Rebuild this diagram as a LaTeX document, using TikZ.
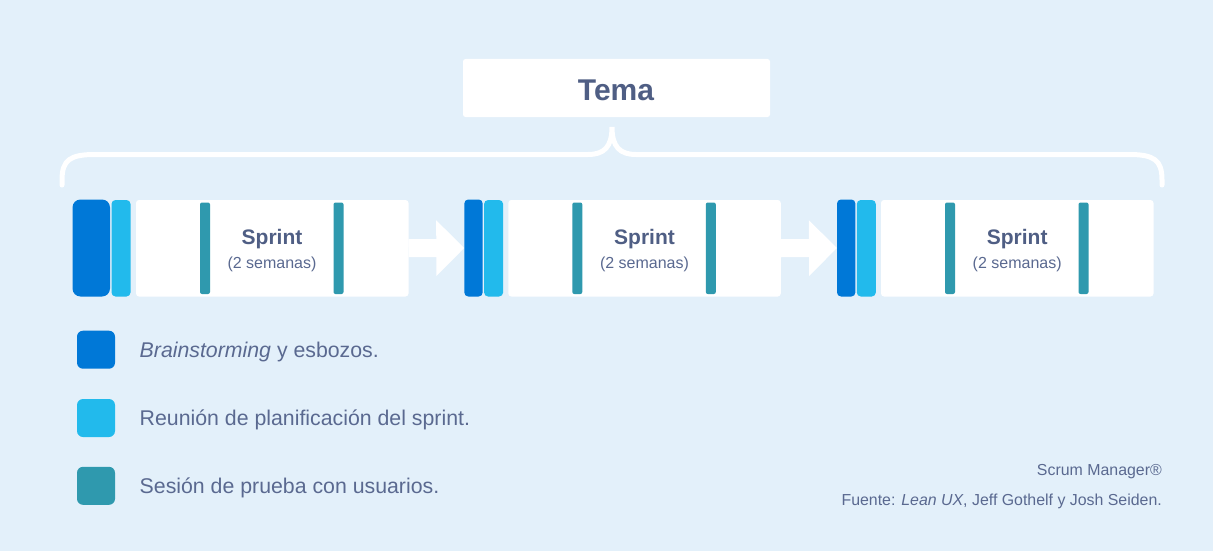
\documentclass[tikz,border=0pt]{standalone}
\usepackage{fontspec}
\setmainfont{Liberation Sans}
\usetikzlibrary{arrows.meta}
\definecolor{bgc}{HTML}{E3F0FA}
\definecolor{dblue}{HTML}{0078D7}
\definecolor{lblue}{HTML}{22BAEC}
\definecolor{tealc}{HTML}{2F99AE}
\definecolor{txta}{HTML}{4F5E84}
\definecolor{txtb}{HTML}{5A6990}
\tikzset{
  blk/.style={inner sep=0pt, outer sep=0pt, anchor=north west, draw=none},
  darkbar/.style={blk, fill=dblue},
  lightbar/.style={blk, fill=lblue, rounded corners=4pt, minimum width=19pt, minimum height=96.5pt},
  whitebox/.style={blk, fill=white, rounded corners=3pt, minimum width=272.5pt, minimum height=96.5pt},
  testbar/.style={blk, fill=tealc, rounded corners=2pt, minimum width=10pt, minimum height=91.5pt},
  sprinttxt/.style={inner sep=0pt, anchor=base, text=txta, font=\fontsize{21}{25}\selectfont\bfseries},
  semtxt/.style={inner sep=0pt, anchor=base, text=txtb, font=\fontsize{16}{19}\selectfont},
  legsq/.style={inner sep=0pt, outer sep=0pt, minimum size=38pt, rounded corners=6pt},
  legtxt/.style={inner sep=0pt, anchor=base west, text=txtb, font=\fontsize{21.3}{25}\selectfont},
  srctxt/.style={inner sep=0pt, anchor=base east, text=txtb, font=\fontsize{15.9}{19}\selectfont},
  blockarrow/.style={white, line width=18pt, -{Triangle[length=28pt,width=54pt]}}
}
\begin{document}
\begin{tikzpicture}[x=1pt,y=-1pt]
\fill[bgc] (0,0) rectangle (1213,551);
\useasboundingbox (0,0) rectangle (1213,551);
% Tema
\node[blk, fill=white, rounded corners=2.5pt, minimum width=307pt, minimum height=58pt] (temabox) at (463,59) {};
\node[inner sep=0pt, anchor=base, text=txta, font=\fontsize{30}{36}\selectfont\bfseries] (tema) at (616,100.5) {Tema};
% brace
\draw[white, line width=5pt, line cap=round]
  (62,185) -- (62,180) .. controls (62,160) and (70,154.5) .. (95,154.5)
  -- (588,154.5) .. controls (604,154.5) and (612,147) .. (612,127)
  .. controls (612,147) and (620,154.5) .. (636,154.5)
  -- (1129,154.5) .. controls (1154,154.5) and (1162,160) .. (1162,180) -- (1162,185);
% group 1
\node[darkbar, rounded corners=8pt, minimum width=37.5pt, minimum height=97pt] (d1) at (72.5,199.5) {};
\node[lightbar] (l1) at (111.5,200) {};
\node[whitebox] (w1) at (136,200) {};
\node[testbar] (t1a) at (200,202.5) {};
\node[testbar] (t1b) at (333.5,202.5) {};
\node[sprinttxt] (s1) at (272,244.5) {Sprint};
\node[semtxt] (m1) at (272,268) {(2 semanas)};
% group 2
\node[darkbar, rounded corners=4pt, minimum width=18.4pt, minimum height=97pt] (d2) at (464.3,199.5) {};
\node[lightbar] (l2) at (484.1,200) {};
\node[whitebox] (w2) at (508.3,200) {};
\node[testbar] (t2a) at (572.3,202.5) {};
\node[testbar] (t2b) at (705.8,202.5) {};
\node[sprinttxt] (s2) at (644.5,244.5) {Sprint};
\node[semtxt] (m2) at (644.5,268) {(2 semanas)};
% group 3
\node[darkbar, rounded corners=4pt, minimum width=18.4pt, minimum height=97pt] (d3) at (837,199.5) {};
\node[lightbar] (l3) at (856.8,200) {};
\node[whitebox] (w3) at (881,200) {};
\node[testbar] (t3a) at (945,202.5) {};
\node[testbar] (t3b) at (1078.5,202.5) {};
\node[sprinttxt] (s3) at (1017.2,244.5) {Sprint};
\node[semtxt] (m3) at (1017.2,268) {(2 semanas)};
% arrows
\draw[blockarrow] (w1.east) -- (d2.west);
\draw[blockarrow] (w2.east) -- (d3.west);
% legend
\node[legsq, fill=dblue] (q1) at (96,349.7) {};
\node[legsq, fill=lblue] (q2) at (96,418) {};
\node[legsq, fill=tealc] (q3) at (96,485.8) {};
\node[legtxt] (e1) at (139.5,357) {\itshape Brainstorming\upshape{} y esbozos.};
\node[legtxt] (e2) at (139.5,425) {Reunión de planificación del sprint.};
\node[legtxt] (e3) at (139.5,493) {Sesión de prueba con usuarios.};
% source
\node[srctxt] (sm) at (1162,475.5) {Scrum Manager®};
\node[srctxt] (src) at (1162,505) {Fuente: \textit{Lean UX}, Jeff Gothelf y Josh Seiden.};
\end{tikzpicture}
\end{document}
